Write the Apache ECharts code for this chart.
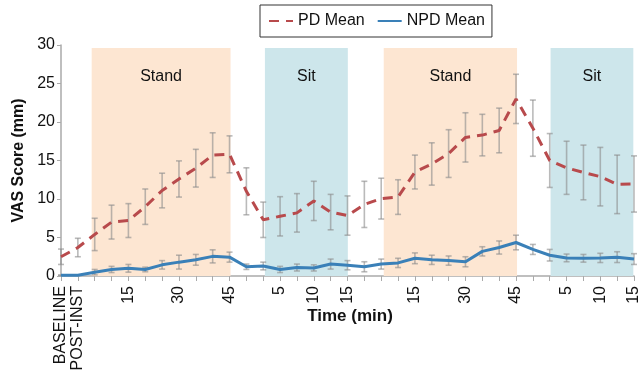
<!DOCTYPE html>
<html>
<head>
<meta charset="utf-8">
<script src="https://cdn.jsdelivr.net/npm/echarts@6/dist/echarts.min.js"></script>
<style>
  html, body { margin: 0; padding: 0; background: #fff; }
  #main { width: 640px; height: 375px; }
</style>
</head>
<body>
<div id="main"></div>
<script>
// x tick labels, one per time point (empty = unlabeled tick)
var xLabels = ['BASELINE', 'POST-INST',
  '', '', '15', '', '', '30', '', '', '45',
  '',
  '', '5', '', '10', '', '15',
  '',
  '', '', '15', '', '', '30', '', '', '45',
  '',
  '', '5', '', '10', '', '15'];

var pdMean = [2.5, 3.7, 5.4, 7.0, 7.2, 9.0, 11.1, 12.6, 14.0, 15.7, 15.8,
  11.0, 7.3, 7.75, 8.2, 9.75, 8.3, 7.85, 9.3,
  10.05, 10.25, 13.5, 14.55, 15.9, 18.0, 18.3, 18.9, 23.0,
  19.2, 15.0, 14.05, 13.45, 12.9, 11.9, 11.95];
var pdErr = [1.0, 1.2, 2.1, 2.2, 2.2, 2.3, 2.25, 2.35, 2.45, 2.9, 2.4,
  3.05, 2.3, 2.55, 2.5, 2.55, 2.3, 2.55, 3.0,
  2.65, 2.25, 2.2, 2.75, 3.1, 3.2, 2.7, 2.9, 3.2,
  3.65, 3.5, 3.45, 3.55, 3.8, 3.8, 3.65];

var npdMean = [0.1, 0.1, 0.5, 0.85, 1.0, 0.85, 1.45, 1.8, 2.1, 2.55, 2.45,
  1.2, 1.3, 0.85, 1.1, 1.05, 1.55, 1.4, 1.2,
  1.55, 1.7, 2.3, 2.1, 2.0, 1.85, 3.2, 3.7, 4.35,
  3.45, 2.7, 2.35, 2.3, 2.35, 2.45, 2.2];
var npdErr = [0, 0, 0.35, 0.4, 0.5, 0.3, 0.55, 0.9, 0.7, 0.85, 0.65,
  0.35, 0.5, 0.4, 0.45, 0.4, 0.65, 0.6, 0.65,
  0.65, 0.6, 0.7, 0.6, 0.6, 0.65, 0.6, 0.85, 0.95,
  0.65, 0.75, 0.5, 0.5, 0.6, 0.7, 0.7];

// posture phases: [name, start index, end index]
var phases = [['Stand', 1.82, 10.06], ['Sit', 12.1, 17.02], ['Stand', 19.15, 27.06], ['Sit', 29.05, 33.96]];
var phaseTop = 29.6;

var font = '"Liberation Sans", Arial, sans-serif';

function pts(arr) {
  return arr.map(function (v, i) { return [i, v]; });
}
function bars(mean, err) {
  return mean.map(function (v, i) { return [i, v - err[i], v + err[i]]; });
}

function renderErr(params, api) {
  var x = api.value(0);
  var lo = api.coord([x, api.value(1)]);
  var hi = api.coord([x, api.value(2)]);
  var w = 3;
  var style = { stroke: 'rgba(140,140,140,0.6)', lineWidth: 1.6 };
  return {
    type: 'group',
    children: [
      { type: 'line', shape: { x1: lo[0], y1: lo[1], x2: hi[0], y2: hi[1] }, style: style },
      { type: 'line', shape: { x1: lo[0] - w, y1: lo[1], x2: lo[0] + w, y2: lo[1] }, style: style },
      { type: 'line', shape: { x1: hi[0] - w, y1: hi[1], x2: hi[0] + w, y2: hi[1] }, style: style }
    ]
  };
}

var areas = phases.map(function (p) {
  var color = p[0] === 'Stand' ? '#fde6d2' : '#cde6eb';
  return [
    { name: p[0], xAxis: p[1], yAxis: 0, itemStyle: { color: color } },
    { xAxis: p[2], yAxis: phaseTop }
  ];
});

var chart = echarts.init(document.getElementById('main'));
chart.setOption({
  animation: false,
  backgroundColor: '#fff',
  textStyle: { fontFamily: font },
  title: {
    text: 'Time (min)',
    left: 350,
    top: 308,
    textAlign: 'center',
    padding: 0,
    textStyle: { fontSize: 17, fontWeight: 'bold', color: '#111', fontFamily: font }
  },
  legend: {
    left: 260,
    top: 5,
    data: ['PD Mean', 'NPD Mean'],
    borderColor: '#333',
    borderWidth: 1,
    padding: [8, 7, 8, 8],
    itemWidth: 24,
    itemHeight: 12,
    itemGap: 12,
    itemStyle: { opacity: 0 },
    textStyle: { fontSize: 16, color: '#111', fontFamily: font }
  },
  grid: { left: 61, right: 6, top: 45, bottom: 99, outerBoundsMode: 'none', containLabel: false },
  xAxis: {
    type: 'value',
    min: 0,
    max: 34,
    interval: 1,
    axisLine: { lineStyle: { color: '#aaa', width: 1.5 } },
    axisTick: { length: 5, lineStyle: { color: '#aaa' } },
    splitLine: { show: false },
    axisLabel: {
      rotate: 90,
      fontSize: 16,
      color: '#111',
      margin: 10,
      showMinLabel: true,
      showMaxLabel: true,
      formatter: function (v) { return xLabels[Math.round(v)] || ''; }
    }
  },
  yAxis: {
    type: 'value',
    min: 0,
    max: 30,
    interval: 5,
    name: 'VAS Score (mm)',
    nameLocation: 'middle',
    nameGap: 34,
    nameTextStyle: { fontSize: 16, fontWeight: 'bold', color: '#111', fontFamily: font },
    axisLine: { show: true, lineStyle: { color: '#aaa', width: 1.5 } },
    axisTick: { show: true, length: 4, lineStyle: { color: '#aaa' } },
    splitLine: { show: false },
    axisLabel: { fontSize: 16, color: '#111', margin: 6 }
  },
  series: [
    {
      name: 'phases',
      type: 'line',
      data: [],
      silent: true,
      markArea: {
        silent: true,
        label: { show: true, position: 'insideTop', distance: 21, fontSize: 16, color: '#111', fontFamily: font },
        data: areas
      }
    },
    {
      name: 'pdErr',
      type: 'custom',
      renderItem: renderErr,
      data: bars(pdMean, pdErr),
      z: 3
    },
    {
      name: 'npdErr',
      type: 'custom',
      renderItem: renderErr,
      data: bars(npdMean, npdErr),
      z: 3
    },
    {
      name: 'PD Mean',
      type: 'line',
      data: pts(pdMean),
      symbol: 'none',
      z: 4,
      itemStyle: { color: '#b84a4c' },
      lineStyle: { color: '#b84a4c', width: 3, type: [10, 7] }
    },
    {
      name: 'NPD Mean',
      type: 'line',
      data: pts(npdMean),
      symbol: 'none',
      z: 4,
      itemStyle: { color: '#3a80b8' },
      lineStyle: { color: '#3a80b8', width: 3 }
    }
  ]
});
</script>
</body>
</html>
